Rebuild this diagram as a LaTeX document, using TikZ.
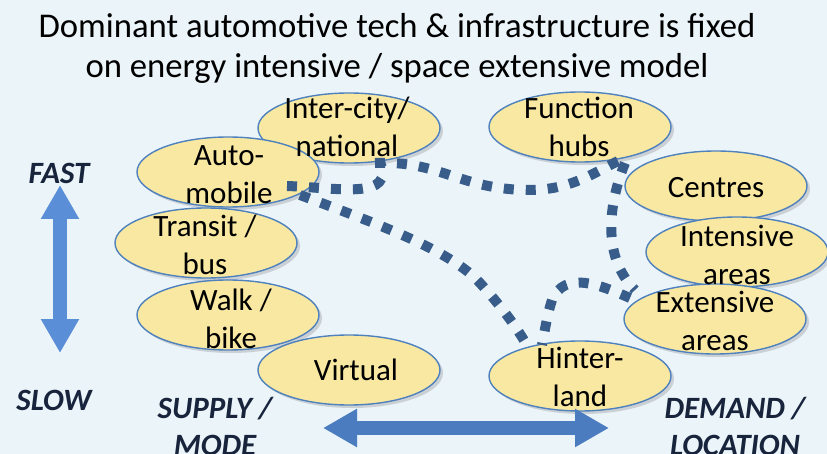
\documentclass[tikz,border=0pt]{standalone}
\usepackage{fontspec}
\setmainfont{Carlito}
\usetikzlibrary{shapes.geometric,shadows,arrows.meta}
\definecolor{bg}{HTML}{EBF4F9}
\definecolor{fillY}{HTML}{F8E8A2}
\definecolor{edgeB}{HTML}{4F81BD}
\definecolor{dotB}{HTML}{395D8B}
\definecolor{arrH}{HTML}{4A7CBF}
\definecolor{arrV}{HTML}{5A8ED6}
\definecolor{navy}{HTML}{17243C}
\begin{document}
\begin{tikzpicture}[x=1pt,y=-1pt,
  bub/.style={ellipse, draw=edgeB, line width=1.4pt, fill=fillY,
    minimum width=182pt, minimum height=70pt, inner sep=0pt,
    drop shadow={opacity=0.3, shadow xshift=3pt, shadow yshift=-3pt}},
  lbl/.style={align=center, font=\fontsize{31}{38}\selectfont, inner sep=0pt},
  ax/.style={align=center, font=\fontsize{31}{37}\selectfont\bfseries\itshape, text=navy, inner sep=0pt},
  link/.style={draw=dotB, line width=10pt, dash pattern=on 10pt off 12pt},
  dbl/.style={line width=14pt, {Triangle[width=36pt,length=34pt]}-{Triangle[width=36pt,length=34pt]}}]
\fill[bg] (0,0) rectangle (827,454);
\useasboundingbox (0,0) rectangle (827,454);

\node[font=\fontsize{34.7}{40}\selectfont, align=center, inner sep=0pt] (title) at (397,48)
  {Dominant automotive tech \& infrastructure is fixed\\on energy intensive / space extensive model};

% ellipses
\node[bub] (inter) at (349,128) {};
\node[bub] (auto) at (228,172) {};
\node[bub] (transit) at (206,243) {};
\node[bub] (walk) at (228,315) {};
\node[bub] (virtual) at (349,370) {};
\node[bub] (hubs) at (580,127) {};
\node[bub] (centres) at (716,186) {};
\node[bub] (intens) at (737,252) {};
\node[bub] (extens) at (715,319) {};
\node[bub] (hinter) at (580,376) {};

% connector end points
\coordinate (a1) at (287,186);
\coordinate (a2) at (300,195);
\coordinate (i1) at (380,162);
\coordinate (i2) at (375,163);
\coordinate (h1) at (625,158);
\coordinate (h2) at (625,163);
\coordinate (e1) at (635,290);
\coordinate (e2) at (630,298);
\coordinate (l1) at (542,345);
\coordinate (l2) at (525,342);

\draw[link] (a1) .. controls (340,188) and (395,200) .. (i1);
\draw[link] (i2) .. controls (440,160) and (460,190) .. (530,190) .. controls (575,190) and (600,168) .. (h1);
\draw[link] (h2) .. controls (610,200) and (600,255) .. (e1);
\draw[link] (e2) .. controls (600,285) and (565,270) .. (552,300) .. controls (547,315) and (545,330) .. (l1);
\draw[link] (a2) .. controls (380,225) and (450,250) .. (480,283) .. controls (500,305) and (515,325) .. (l2);

% labels
\node[lbl] at (347,127) {Inter-city/\\national};
\node[lbl] at (229,175) {Auto-\\mobile};
\node[lbl] at (205,245) {Transit /\\bus};
\node[lbl] at (231,319) {Walk /\\bike};
\node[lbl] at (356,370) {Virtual};
\node[lbl] at (579,127) {Function\\hubs};
\node[lbl] at (716,188) {Centres};
\node[lbl] at (737,255) {Intensive\\areas};
\node[lbl] at (715,321) {Extensive\\areas};
\node[lbl] at (580,377) {Hinter-\\land};

% axes
\coordinate (vt) at (60,185);
\coordinate (vb) at (60,353);
\draw[arrV, dbl] (vt) -- (vb);
\coordinate (hl) at (323,428);
\coordinate (hr) at (609,428);
\draw[arrH, dbl] (hl) -- (hr);

\node[ax] (fast) at (59,173) {FAST};
\node[ax] (slow) at (54,400) {SLOW};
\node[ax] (supply) at (215,426) {SUPPLY /\\MODE};
\node[ax] (demand) at (735,426) {DEMAND /\\LOCATION};
\end{tikzpicture}
\end{document}
